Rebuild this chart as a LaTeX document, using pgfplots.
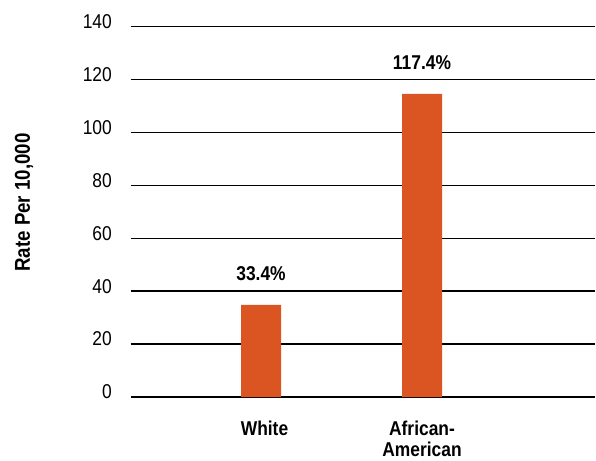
\documentclass[border=0pt]{standalone}
\usepackage{fontspec}
\setmainfont{Liberation Sans}[FakeStretch=0.87]
\usepackage{pgfplots}
\pgfplotsset{compat=1.18}
\definecolor{barorange}{RGB}{218,85,34}
\begin{document}
\begin{tikzpicture}
\path[use as bounding box] (0,0) rectangle (596pt,460pt);
\begin{axis}[
 at={(130.7pt,63pt)}, anchor=south west,
 scale only axis, width=464.3pt, height=370.5pt,
 xmin=0, xmax=464.3, ymin=0, ymax=140, enlargelimits=false,
 axis line style={draw=none},
 ytick={0,20,...,140},
 major tick length=0pt,
 ymajorgrids, grid style={black, line width=1.4pt},
 xtick={130.3,291.3},
 xticklabels={\hspace*{7pt}White, {African-\\American}},
 xticklabel style={font=\fontsize{20}{21}\selectfont\bfseries, align=center, anchor=north, inner sep=0pt, yshift=-23.6pt},
 yticklabel style={font=\fontsize{20}{24}\selectfont, anchor=east, inner sep=0pt, xshift=-18.7pt, yshift=5pt},
 /pgf/number format/assume math mode=true,
 clip=false,
]
\addplot[ybar, bar width=40pt, bar shift=0pt, fill=barorange, draw=none,
  nodes near coords, point meta=explicit symbolic,
  every node near coord/.append style={font=\fontsize{20}{24}\selectfont\bfseries, anchor=base, inner sep=0pt, yshift=24pt}]
  coordinates {(130.3,34.8) [33.4\%] (291.3,114.5) [117.4\%]};
\end{axis}
\node[rotate=90, font=\fontsize{21.5}{24}\selectfont\bfseries] at (24pt,257.5pt) {Rate Per 10,000};
\end{tikzpicture}
\end{document}
